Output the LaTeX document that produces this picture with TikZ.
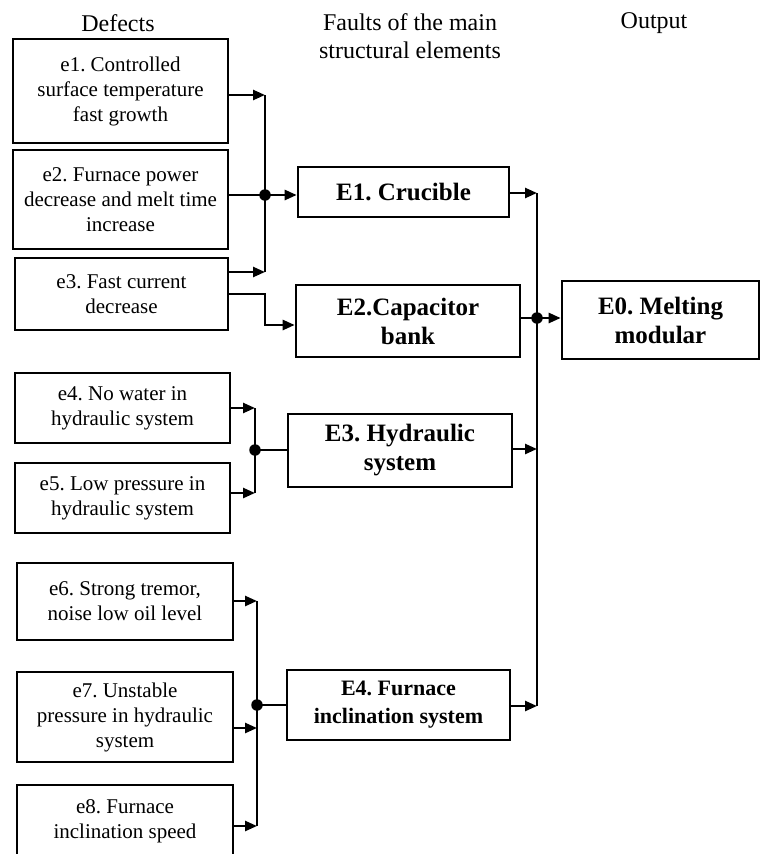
\documentclass[tikz,border=0pt]{standalone}
\usepackage{fontspec}
\setmainfont{Liberation Serif}
\usetikzlibrary{arrows.meta}
\frenchspacing
\begin{document}
\begin{tikzpicture}[x=1pt,y=-1pt,
  box/.style={draw, line width=2.6pt, rectangle, inner sep=0pt, align=center, font=\fontsize{21}{25}\selectfont},
  bbox/.style={box, font=\bfseries\fontsize{25}{29}\selectfont},
  wire/.style={line width=2.5pt},
  arr/.style={wire, -{Triangle[length=12pt,width=10pt]}},
  dotnode/.style={circle, fill, inner sep=0pt, minimum size=11.5pt},
  head/.style={font=\fontsize{24}{28}\selectfont, anchor=base}]
\useasboundingbox[fill=white] (0,0) rectangle (761,854);

% headers
\node[head] (h1) at (118,31) {Defects};
\node[head] (h2) at (410,30) {Faults of the main};
\node[head] (h3) at (410,58) {structural elements};
\node[head] (h4) at (654,28) {Output};

% defect boxes
\node[box, minimum width=215pt, minimum height=104pt] (e1) at (120.5,91) {e1. Controlled\\surface temperature\\fast growth};
\node[box, minimum width=215pt, minimum height=99pt] (e2) at (120.5,199.5) {e2. Furnace power\\decrease and melt time\\increase};
\node[box, minimum width=213pt, minimum height=72pt] (e3) at (121.5,294) {e3. Fast current\\decrease};
\node[box, minimum width=215pt, minimum height=70pt] (e4) at (122.5,408) {e4. No water in\\hydraulic system};
\node[box, minimum width=215pt, minimum height=70pt] (e5) at (122.5,498) {e5. Low pressure in\\hydraulic system};
\node[box, minimum width=216pt, minimum height=77pt] (e6) at (125,601.5) {e6. Strong tremor,\\noise low oil level};
\node[box, minimum width=216pt, minimum height=90pt] (e7) at (125,717) {e7. Unstable\\pressure in hydraulic\\system};
\node[box, minimum width=216pt, minimum height=72pt] (e8) at (125,821) {e8. Furnace\\inclination speed};

% element boxes
\node[bbox, minimum width=211pt, minimum height=50pt] (E1) at (403.5,192) {E1. Crucible};
\node[bbox, minimum width=224pt, minimum height=72pt] (E2) at (408,321) {E2.Capacitor\\bank};
\node[bbox, minimum width=224pt, minimum height=73pt] (E3) at (400,450.5) {E3. Hydraulic\\system};
\node[bbox, minimum width=223pt, minimum height=70pt, font=\bfseries\fontsize{22}{28}\selectfont] (E4) at (398.5,705) {E4. Furnace\\inclination system};
\node[bbox, minimum width=197pt, minimum height=78pt] (E0) at (660.5,320) {E0. Melting\\modular};

% junction coordinates
\coordinate (a1) at (265,95);
\coordinate (jA) at (265,195);
\coordinate (a3) at (265,272);
\coordinate (b1) at (265,294);
\coordinate (b2) at (265,325);
\coordinate (c1) at (537,193);
\coordinate (jB) at (537,318);
\coordinate (c3) at (537,449);
\coordinate (c4) at (537,706);
\coordinate (d1) at (255,408);
\coordinate (jC) at (255,450);
\coordinate (d2) at (255,493);
\coordinate (f1) at (257,601);
\coordinate (jD) at (257,705);
\coordinate (f2) at (257,728);
\coordinate (f3) at (257,826);

% group A
\draw[wire] (a1) -- (a3);
\draw[arr] (e1.east |- a1) -- (a1);
\draw[wire] (e2.east |- jA) -- (jA);
\draw[arr] (jA) -- (E1.west |- jA);
\draw[arr] (e3.east |- a3) -- (a3);
\draw[arr] (e3.east |- b1) -- (b1) -- (b2) -- (E2.west |- b2);

% group B
\draw[wire] (c1) -- (c4);
\draw[arr] (E1.east |- c1) -- (c1);
\draw[wire] (E2.east |- jB) -- (jB);
\draw[arr] (jB) -- (E0.west |- jB);
\draw[arr] (E3.east |- c3) -- (c3);
\draw[arr] (E4.east |- c4) -- (c4);

% group C
\draw[wire] (d1) -- (d2);
\draw[arr] (e4.east |- d1) -- (d1);
\draw[arr] (e5.east |- d2) -- (d2);
\draw[wire] (jC) -- (E3.west |- jC);

% group D
\draw[wire] (f1) -- (f3);
\draw[arr] (e6.east |- f1) -- (f1);
\draw[arr] (e7.east |- f2) -- (f2);
\draw[arr] (e8.east |- f3) -- (f3);
\draw[wire] (jD) -- (E4.west |- jD);

% dots
\node[dotnode] (dA) at (jA) {};
\node[dotnode] (dB) at (jB) {};
\node[dotnode] (dC) at (jC) {};
\node[dotnode] (dD) at (jD) {};
\end{tikzpicture}
\end{document}
